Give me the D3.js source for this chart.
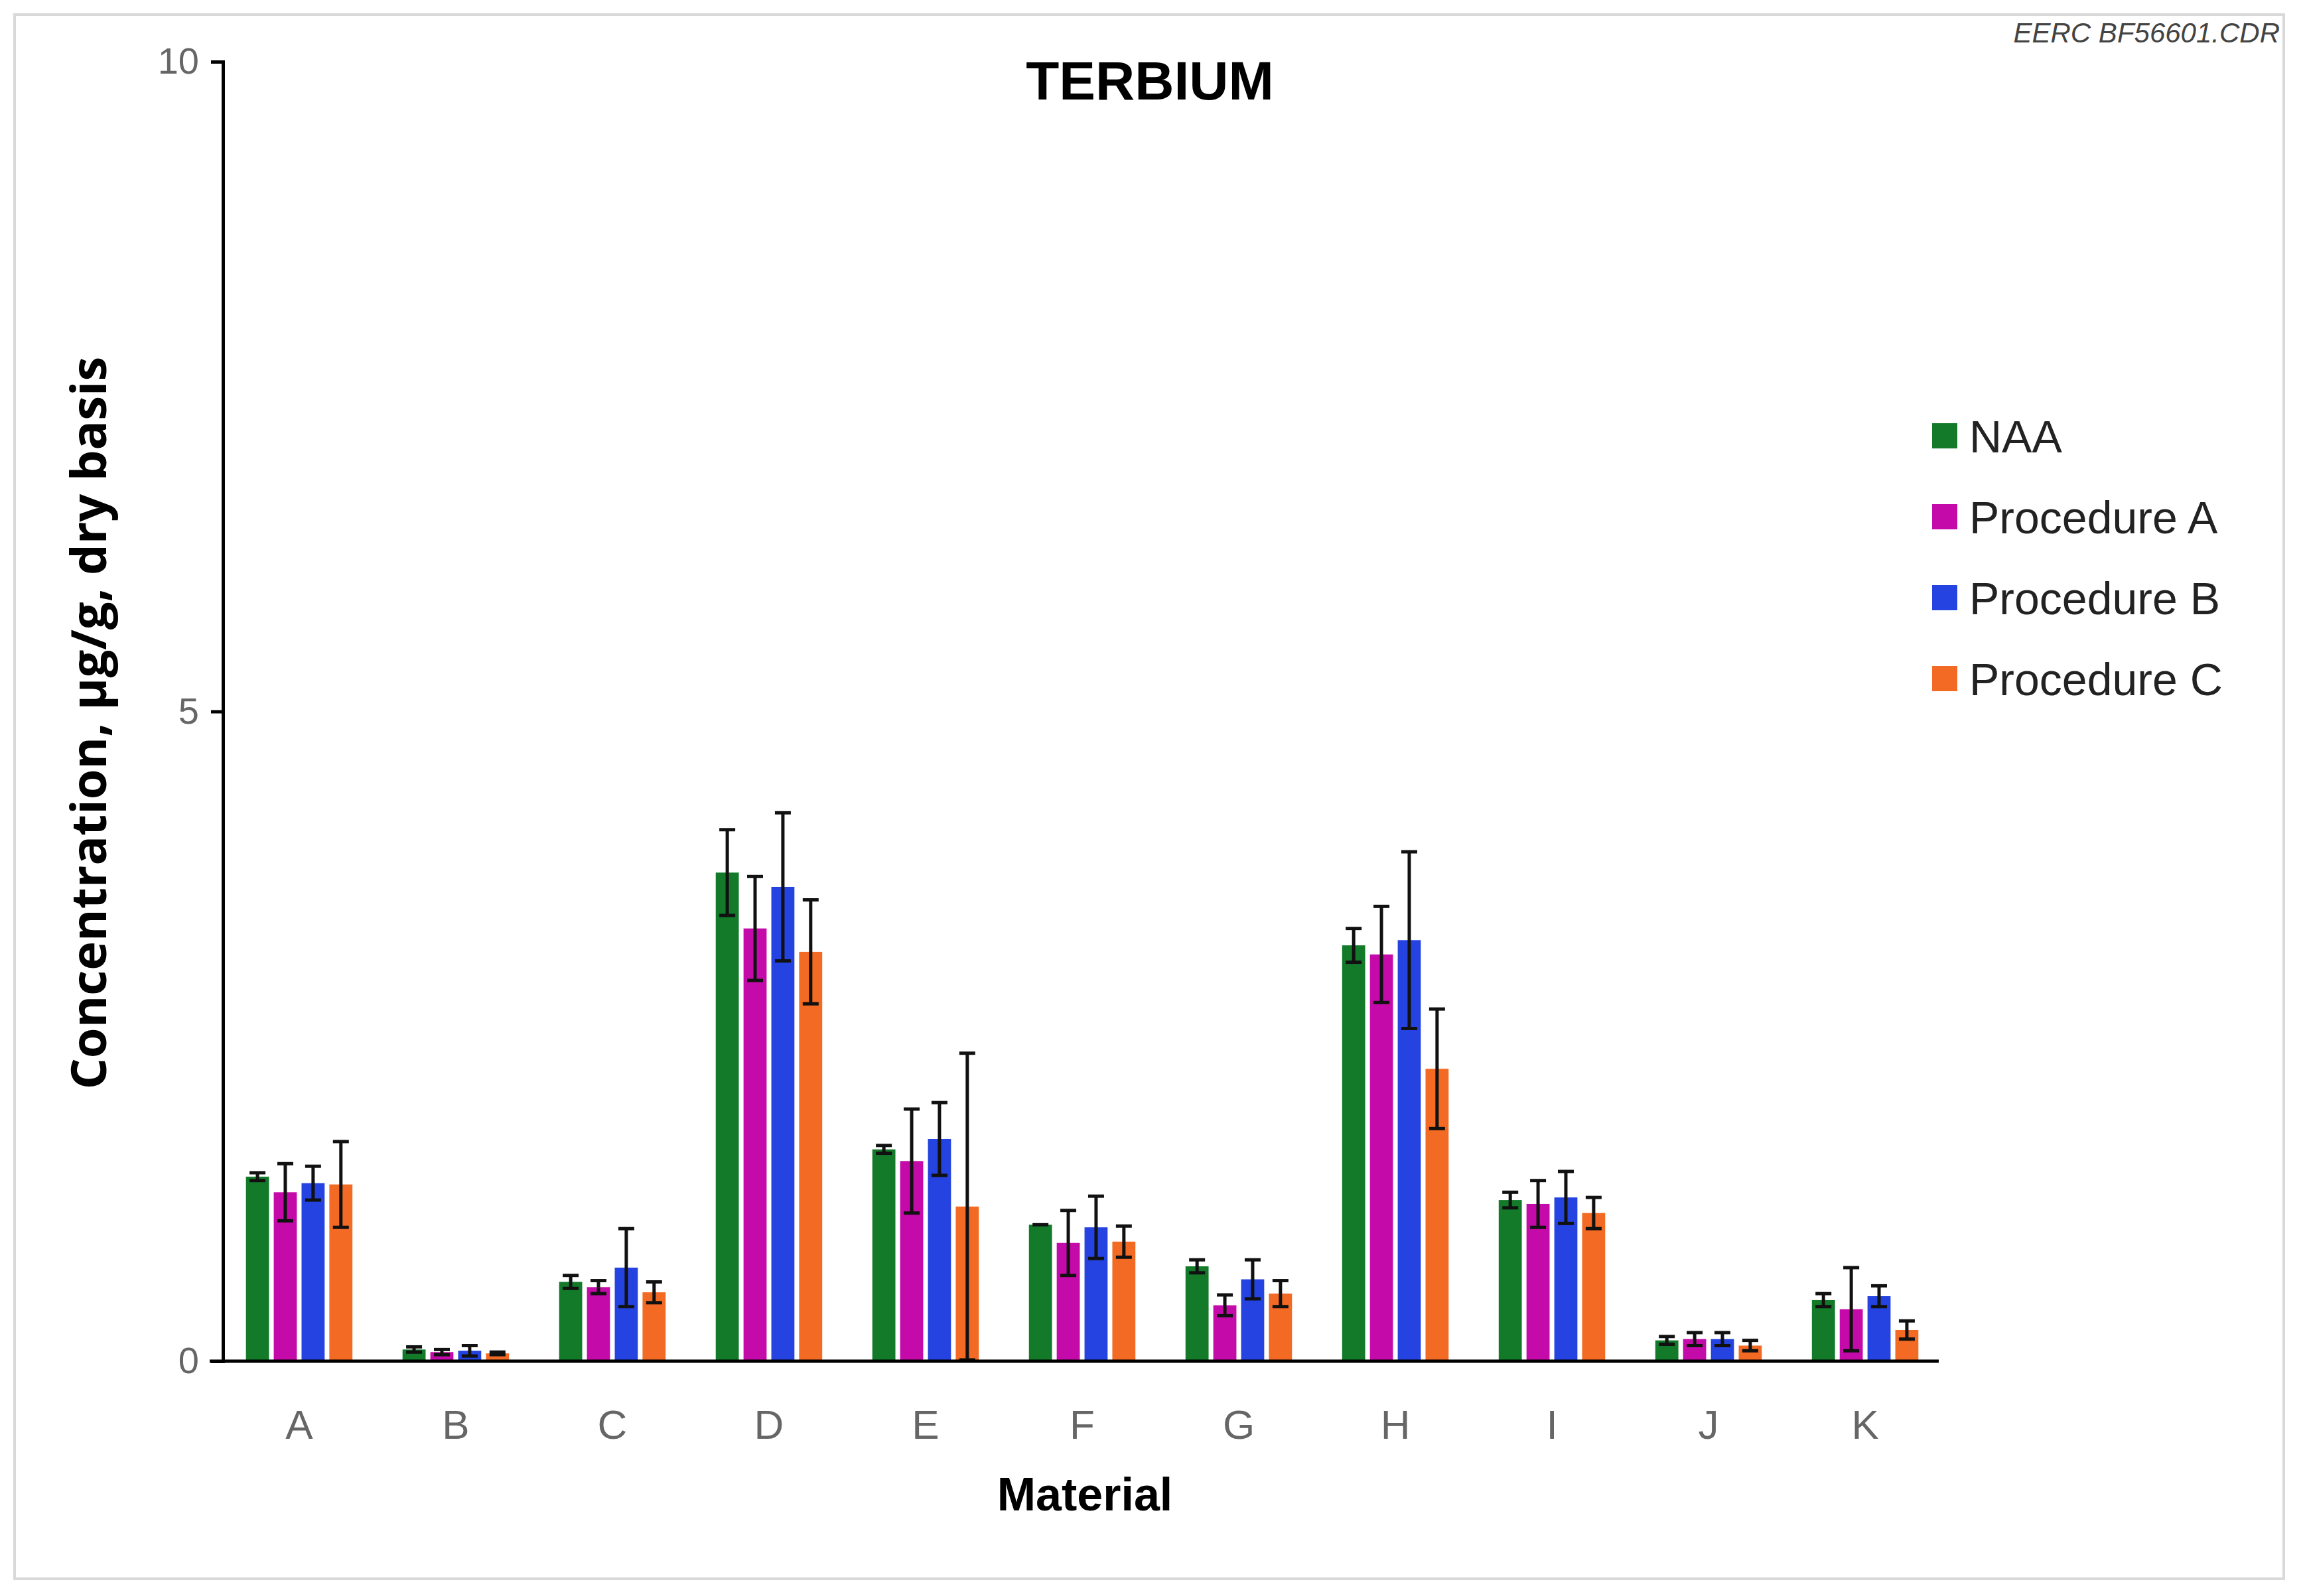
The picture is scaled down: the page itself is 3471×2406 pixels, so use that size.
<!DOCTYPE html>
<html><head><meta charset="utf-8">
<script src="https://cdn.jsdelivr.net/npm/d3@7"></script>
<style>body{margin:0;background:#fff}</style></head>
<body><svg id="c" width="3471" height="2406"></svg>
<script>
const categories=["A","B","C","D","E","F","G","H","I","J","K"];
const seriesNames=["NAA","Procedure A","Procedure B","Procedure C"];
const colors=["#137a2a","#c40aa8","#2443e0","#f26a23"];
const naa=[1.42,0.09,0.61,3.76,1.63,1.05,0.73,3.20,1.24,0.16,0.47];
const procA=[1.30,0.07,0.57,3.33,1.54,0.91,0.43,3.13,1.21,0.17,0.40];
const procB=[1.37,0.08,0.72,3.65,1.71,1.03,0.63,3.24,1.26,0.17,0.50];
const procC=[1.36,0.06,0.53,3.15,1.19,0.92,0.52,2.25,1.14,0.12,0.24];
const errNaa=[0.03,0.02,0.05,0.33,0.03,0.0,0.05,0.13,0.06,0.03,0.05];
const errA=[0.22,0.02,0.05,0.40,0.40,0.25,0.08,0.37,0.18,0.05,0.32];
const errB=[0.13,0.04,0.30,0.57,0.28,0.24,0.15,0.68,0.20,0.05,0.08];
const errC=[0.33,0.01,0.08,0.40,1.18,0.12,0.10,0.46,0.12,0.04,0.07];
const yTicks=[0,5,10];
const vals=[naa,procA,procB,procC], errs=[errNaa,errA,errB,errC];

const svg=d3.select("#c");
svg.append("rect").attr("x",22).attr("y",22).attr("width",3420).attr("height",2358).attr("fill","none").attr("stroke","#d9d9d9").attr("stroke-width",4);
const L=336,R=2922,T=93,B=2052;
const x0=d3.scaleBand().domain(categories).range([L+4,R]).paddingInner(0.32).paddingOuter(0.13);
const x1=d3.scaleBand().domain(seriesNames).range([0,x0.bandwidth()]).paddingInner(0.17);
const y=d3.scaleLinear().domain([0,10]).range([B,T]);

categories.forEach((c,i)=>{
  seriesNames.forEach((s,j)=>{
    const v=vals[j][i], e=errs[j][i];
    const bx=x0(c)+x1(s);
    svg.append("rect").attr("x",bx).attr("y",y(v)).attr("width",x1.bandwidth()).attr("height",B-y(v)).attr("fill",colors[j]);
    const cx=bx+x1.bandwidth()/2;
    if(e>0){
      const g=svg.append("g").attr("stroke","#111").attr("stroke-width",5);
      g.append("line").attr("x1",cx).attr("x2",cx).attr("y1",y(v+e)).attr("y2",y(Math.max(0,v-e)));
      [v+e,Math.max(0,v-e)].forEach(t=>g.append("line").attr("x1",cx-12).attr("x2",cx+12).attr("y1",y(t)).attr("y2",y(t)));
    } else {
      svg.append("line").attr("stroke","#111").attr("stroke-width",5).attr("x1",cx-12).attr("x2",cx+12).attr("y1",y(v)).attr("y2",y(v));
    }
  });
});

const ya=svg.append("g").attr("transform",`translate(${L},0)`).call(d3.axisLeft(y).tickValues(yTicks).tickSize(18).tickFormat(d3.format("d")));
ya.select(".domain").attr("stroke","#000").attr("stroke-width",5);
ya.selectAll(".tick line").attr("stroke","#000").attr("stroke-width",5);
ya.selectAll(".tick text").attr("font-family","Liberation Sans, Arial").attr("font-size",56).attr("fill","#666").attr("x",-36);
const xa=svg.append("g").attr("transform",`translate(0,${B})`).call(d3.axisBottom(x0).tickSize(0));
xa.select(".domain").attr("stroke","#000").attr("stroke-width",5).attr("d",`M${L-20},0H${R}`);
xa.selectAll(".tick text").attr("font-family","Liberation Sans, Arial").attr("font-size",62).attr("fill","#666").attr("dy",0).attr("y",117);

svg.append("text").attr("x",1733).attr("y",150).attr("text-anchor","middle").attr("font-family","Liberation Sans, Arial").attr("font-weight","bold").attr("font-size",82).text("TERBIUM");
svg.append("text").attr("x",1635).attr("y",2277).attr("text-anchor","middle").attr("font-family","Liberation Sans, Arial").attr("font-weight","bold").attr("font-size",70).text("Material");
svg.append("text").attr("transform","translate(160,1090) rotate(-90)").attr("text-anchor","middle").attr("font-family","Open Sans").attr("font-weight","bold").attr("font-size",74).text("Concentration, µg/g, dry basis");
svg.append("text").attr("x",3436).attr("y",64).attr("text-anchor","end").attr("font-family","Liberation Sans, Arial").attr("font-style","italic").attr("font-size",42).attr("fill","#444").text("EERC BF56601.CDR");

const lg=svg.append("g");
seriesNames.forEach((s,j)=>{
  const ly=658+j*122;
  lg.append("rect").attr("x",2912).attr("y",ly-20).attr("width",38).attr("height",38).attr("fill",colors[j]);
  lg.append("text").attr("x",2968).attr("y",ly+24).attr("font-family","Liberation Sans, Arial").attr("font-size",68).attr("fill","#222").text(s);
});
</script></body></html>
